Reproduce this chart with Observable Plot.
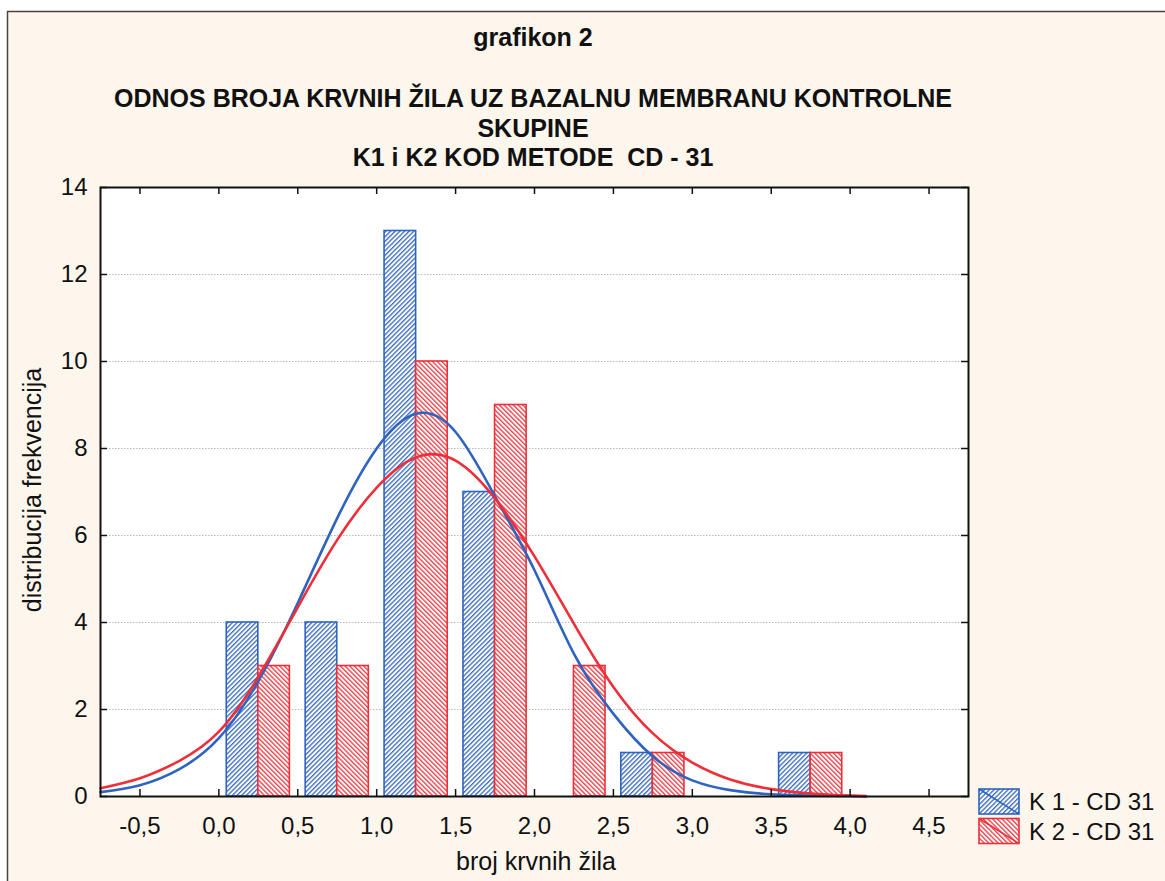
<!DOCTYPE html>
<html>
<head>
<meta charset="utf-8">
<script src="https://cdn.jsdelivr.net/npm/d3@7"></script>
<script src="https://cdn.jsdelivr.net/npm/@observablehq/plot@0.6"></script>
<style>
  html, body { margin: 0; padding: 0; background: #ffffff; }
  svg text { white-space: pre; }
</style>
</head>
<body>
<div id="chart"></div>
<script>
// ---- data ----
const binLo = [0, 0.5, 1.0, 1.5, 2.0, 2.5, 3.0, 3.5];
const k1Counts = [4, 4, 13, 7, 0, 1, 0, 1];
const k2Counts = [3, 3, 10, 9, 3, 1, 0, 1];

const curveX = [-0.75, -0.5, -0.25, 0, 0.25, 0.5, 0.75, 1.0, 1.25, 1.5, 1.75, 2.0, 2.25, 2.5, 2.75, 3.0, 3.25, 3.5, 3.75, 4.0, 4.1];
const k1Fit  = [0.10, 0.26, 0.63, 1.34, 2.65, 4.45, 6.40, 8.00, 8.80, 8.38, 6.90, 5.20, 3.28, 1.90, 0.92, 0.37, 0.14, 0.05, 0.02, 0.01, 0.00];
const k2Fit  = [0.19, 0.42, 0.82, 1.49, 2.75, 4.35, 5.90, 7.10, 7.80, 7.72, 6.85, 5.52, 3.97, 2.52, 1.45, 0.78, 0.38, 0.17, 0.07, 0.02, 0.01];

const xTicks = [-0.5, 0, 0.5, 1.0, 1.5, 2.0, 2.5, 3.0, 3.5, 4.0, 4.5];
const yTicks = [0, 2, 4, 6, 8, 10, 12, 14];
const yGrid = [2, 4, 6, 8, 10, 12];

const seriesNames = ["K 1 - CD 31", "K 2 - CD 31"];
const titleLines = ["ODNOS BROJA KRVNIH ŽILA UZ BAZALNU MEMBRANU KONTROLNE", "SKUPINE", "K1 i K2 KOD METODE  CD - 31"];
const chartNumber = "grafikon 2";
const xLabel = "broj krvnih žila";
const yLabel = "distribucija frekvencija";

// ---- styles ----
const BLUE = "#2f63c0";
const RED = "#ee2f38";
const FONT = "'Liberation Sans', Arial, sans-serif";
const barW = 0.2;

const bins = binLo.map((lo, i) => ({center: lo + 0.25, k1: k1Counts[i], k2: k2Counts[i]}));
const fit1 = curveX.map((x, i) => ({x, y: k1Fit[i]}));
const fit2 = curveX.map((x, i) => ({x, y: k2Fit[i]}));

const W = 1165, H = 881;
const mL = 100, mR = 197, mT = 187, mB = 85;
const frameW = W - mL - mR, frameH = H - mT - mB;

const svg = Plot.plot({
  width: W,
  height: H,
  marginLeft: mL,
  marginRight: mR,
  marginTop: mT,
  marginBottom: mB,
  style: {fontFamily: FONT, fontSize: "24px", color: "#111", background: "transparent", overflow: "visible"},
  x: {domain: [-0.75, 4.75]},
  y: {domain: [0, 14]},
  marks: [
    Plot.frame({fill: "white", stroke: "none"}),
    Plot.gridY(yGrid, {stroke: "#b8b8b8", strokeOpacity: 1, strokeWidth: 1.2, strokeDasharray: "1.5,1.5"}),
    Plot.rectY(bins.filter(d => d.k1 > 0), {x1: d => d.center - barW, x2: d => d.center, y: "k1", fill: "url(#hatchBlue)", stroke: BLUE, strokeWidth: 1.6}),
    Plot.rectY(bins.filter(d => d.k2 > 0), {x1: d => d.center, x2: d => d.center + barW, y: "k2", fill: "url(#hatchRed)", stroke: RED, strokeWidth: 1.6}),
    Plot.line(fit1, {x: "x", y: "y", stroke: BLUE, strokeWidth: 2.6, curve: "natural"}),
    Plot.line(fit2, {x: "x", y: "y", stroke: RED, strokeWidth: 2.6, curve: "natural"}),
    // inward ticks on all four sides
    Plot.tickY(yTicks, {y: d => d, insetRight: frameW - 7, stroke: "#111", strokeWidth: 1.5}),
    Plot.tickY(yTicks, {y: d => d, insetLeft: frameW - 7, stroke: "#111", strokeWidth: 1.5}),
    Plot.tickX(xTicks, {x: d => d, insetTop: frameH - 7, stroke: "#111", strokeWidth: 1.5}),
    Plot.tickX(xTicks, {x: d => d, insetBottom: frameH - 7, stroke: "#111", strokeWidth: 1.5}),
    Plot.axisX(xTicks, {tickSize: 0, tickPadding: 20, fontSize: 24, tickFormat: d => d.toFixed(1).replace(".", ","), label: null}),
    Plot.axisY(yTicks, {tickSize: 0, tickPadding: 13, fontSize: 24, tickFormat: d => String(d), label: null}),
    Plot.frame({stroke: "#111", strokeWidth: 2})
  ]
});

const s = d3.select(svg);

// hatch patterns
const defs = s.insert("defs", ":first-child");
function hatch(id, color, angle) {
  const p = defs.append("pattern")
    .attr("id", id)
    .attr("patternUnits", "userSpaceOnUse")
    .attr("width", 3.3).attr("height", 3.3)
    .attr("patternTransform", `rotate(${angle})`);
  p.append("rect").attr("width", 3.3).attr("height", 3.3).attr("fill", "white");
  p.append("line").attr("x1", 0.7).attr("y1", 0).attr("x2", 0.7).attr("y2", 3.3)
    .attr("stroke", color).attr("stroke-width", 1.25);
}
hatch("hatchBlue", BLUE, 45);
hatch("hatchRed", RED, -45);

// cream page background with outer frame
s.insert("rect", "defs + *")
  .attr("x", 7.5).attr("y", 11.5)
  .attr("width", W).attr("height", H)
  .attr("fill", "#fdf6ec").attr("stroke", "#444").attr("stroke-width", 1.5);

// titles
const cx = 533;
s.append("text").attr("x", cx).attr("y", 46).attr("text-anchor", "middle")
  .attr("font-weight", "bold").attr("font-size", 25).attr("fill", "#111").text(chartNumber);
titleLines.forEach((t, i) => {
  s.append("text").attr("x", cx).attr("y", 107 + i * 29.5).attr("text-anchor", "middle")
    .attr("font-weight", "bold").attr("font-size", 25).attr("fill", "#111").text(t);
});

// axis labels
s.append("text").attr("x", 536).attr("y", 870).attr("text-anchor", "middle")
  .attr("font-size", 25).attr("fill", "#111").text(xLabel);
s.append("text").attr("transform", "translate(41,490) rotate(-90)").attr("text-anchor", "middle")
  .attr("font-size", 25).attr("fill", "#111").text(yLabel);

// legend
const legend = [{name: seriesNames[0], color: BLUE, fill: "url(#hatchBlue)"}, {name: seriesNames[1], color: RED, fill: "url(#hatchRed)"}];
legend.forEach((d, i) => {
  const y0 = 789 + i * 29.5;
  s.append("rect").attr("x", 979).attr("y", y0).attr("width", 40).attr("height", 25)
    .attr("fill", d.fill).attr("stroke", d.color).attr("stroke-width", 1.6);
  s.append("line").attr("x1", 979).attr("y1", y0).attr("x2", 1019).attr("y2", y0 + 25)
    .attr("stroke", d.color).attr("stroke-width", 1.6);
  s.append("text").attr("x", 1029).attr("y", y0 + 21).attr("text-anchor", "start")
    .attr("font-size", 24).attr("fill", "#111").text(d.name);
});

document.getElementById("chart").appendChild(svg);
</script>
</body>
</html>
